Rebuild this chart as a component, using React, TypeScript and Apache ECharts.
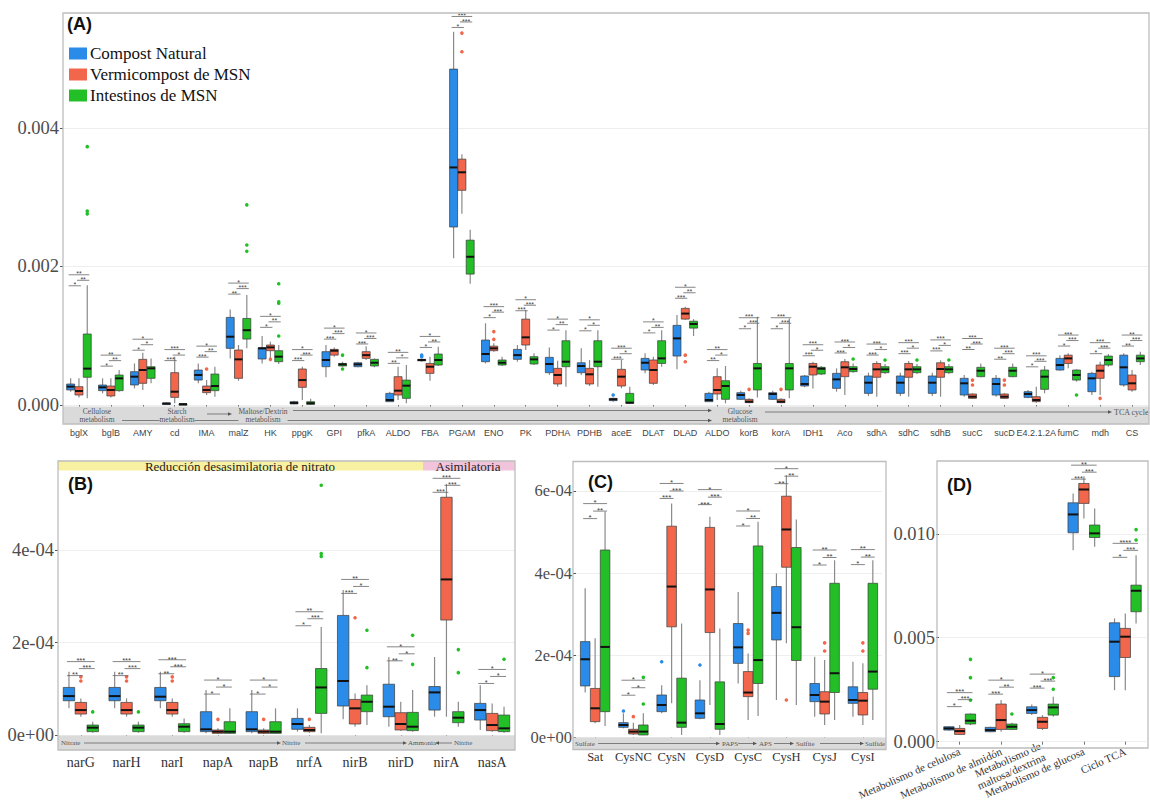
import React, { useEffect, useRef } from "react";
import * as echarts from "echarts";

// ---- groups -------------------------------------------------------------
const GROUPS = ["Compost Natural", "Vermicompost de MSN", "Intestinos de MSN"];
const FILLS = ["#2b8be8", "#f2664c", "#22c026"];

// ---- (A) carbohydrate metabolism genes, relative abundance ×1e-4 ----------
// box rows: [min, q1, median, q3, max]
const catsA = ["bglX", "bglB", "AMY", "cd", "IMA", "malZ", "HK", "ppgK", "GPI", "pfkA", "ALDO", "FBA", "PGAM", "ENO", "PK", "PDHA", "PDHB", "aceE", "DLAT", "DLAD", "ALDO", "korB", "korA", "IDH1", "Aco", "sdhA", "sdhC", "sdhB", "sucC", "sucD", "E4.2.1.2A", "fumC", "mdh", "CS"];
const compostA = [
  [1.93, 2.17, 2.65, 3.03, 3.85], [1.68, 2.07, 2.55, 2.89, 3.85], [2.4, 2.89, 4.09, 4.81, 6.0], [0.1, 0.15, 0.2, 0.3, 0.35],
  [3.13, 3.6, 4.33, 5.05, 6.0], [6.73, 8.18, 9.86, 12.65, 13.8], [6.0, 6.64, 8.18, 8.27, 9.96], [0.1, 0.15, 0.3, 0.48, 0.6],
  [4.0, 5.53, 6.5, 7.7, 8.66], [5.44, 5.53, 5.87, 6.1, 6.25], [0.48, 0.48, 0.72, 1.68, 1.92], [6.25, 6.4, 6.5, 6.59, 6.73],
  [21.2, 25.7, 34.3, 48.5, 53.9], [6.0, 6.25, 7.36, 9.38, 11.8], [6.25, 6.59, 7.2, 8.03, 8.66], [4.33, 4.67, 5.92, 6.88, 8.32],
  [4.33, 4.67, 5.63, 6.1, 8.18], [0.48, 0.63, 0.82, 0.96, 1.1], [4.57, 5.05, 6.1, 6.73, 7.46], [5.15, 7.07, 9.62, 11.5, 13.0],
  [0.48, 0.48, 0.72, 1.68, 1.92], [0.72, 0.82, 1.44, 1.78, 2.07], [0.72, 0.82, 1.59, 1.78, 2.07], [2.55, 2.74, 3.03, 4.19, 4.33],
  [1.92, 2.4, 3.7, 4.57, 5.29], [1.3, 1.68, 3.22, 4.19, 4.67], [1.3, 1.68, 3.22, 4.19, 4.67], [1.3, 1.68, 3.22, 4.19, 4.67],
  [1.2, 1.44, 3.13, 3.85, 4.33], [1.2, 1.44, 3.03, 3.85, 4.33], [0.96, 1.1, 1.59, 1.92, 2.17], [4.95, 5.05, 5.77, 6.73, 7.2],
  [1.44, 1.92, 3.85, 4.57, 4.81], [2.65, 2.89, 5.44, 7.2, 7.46],
];
const vermiA = [
  [1.1, 1.44, 2.02, 2.65, 3.85], [1.1, 1.3, 2.17, 2.74, 3.85], [2.17, 3.13, 5.05, 6.59, 7.55], [0.24, 1.1, 1.92, 4.67, 6.98],
  [1.44, 1.78, 2.17, 2.74, 3.6], [3.5, 3.85, 6.59, 7.94, 8.66], [6.73, 7.84, 8.32, 8.66, 9.14], [0.72, 2.55, 3.6, 5.2, 5.53],
  [6.98, 7.2, 7.84, 8.03, 8.32], [6.5, 6.73, 7.2, 7.7, 8.5], [0.72, 1.44, 2.07, 4.09, 5.53], [3.5, 4.57, 5.53, 6.0, 6.98],
  [27.6, 31.0, 33.6, 35.5, 36.2], [7.7, 7.84, 8.18, 8.5, 8.9], [7.94, 8.66, 9.77, 12.4, 13.7], [2.65, 3.03, 4.33, 5.29, 6.4],
  [2.74, 3.03, 4.43, 5.29, 6.5], [2.4, 2.74, 4.09, 5.15, 6.5], [2.89, 3.13, 5.05, 6.5, 6.98], [12.3, 12.4, 13.2, 13.95, 14.2],
  [0.72, 1.59, 2.17, 4.09, 5.29], [0.24, 0.34, 0.48, 0.82, 0.96], [0.24, 0.34, 0.48, 0.82, 0.96], [2.4, 4.33, 5.53, 6.0, 6.25],
  [1.44, 4.09, 5.44, 6.25, 6.64], [1.2, 4.0, 5.15, 6.0, 6.35], [1.2, 4.0, 5.15, 6.0, 6.35], [1.2, 4.0, 5.2, 6.1, 6.45],
  [0.87, 0.96, 1.2, 1.59, 1.68], [0.87, 0.96, 1.2, 1.59, 1.68], [0.34, 0.48, 0.72, 1.2, 2.65], [5.29, 6.0, 6.73, 7.2, 7.46],
  [1.44, 3.85, 4.95, 5.77, 6.25], [1.92, 2.17, 3.13, 4.33, 5.05],
];
const gutA = [
  [0.96, 4.0, 5.25, 10.25, 17.3], [1.92, 2.07, 3.85, 4.33, 5.05], [3.13, 3.85, 5.29, 5.53, 6.73], [0.05, 0.08, 0.12, 0.18, 0.25],
  [1.2, 2.07, 2.74, 4.47, 5.53], [8.18, 9.52, 10.8, 12.5, 15.9], [5.92, 6.25, 6.98, 7.84, 8.66], [0.05, 0.1, 0.25, 0.48, 0.9],
  [5.53, 5.63, 5.87, 6.0, 6.25], [5.44, 5.63, 6.1, 6.59, 6.73], [0.24, 0.96, 2.79, 3.6, 5.77], [5.63, 5.77, 6.5, 7.36, 8.42],
  [17.5, 18.9, 21.4, 23.8, 25.3], [5.63, 5.77, 6.1, 6.5, 6.98], [5.77, 5.92, 6.59, 6.98, 7.46], [2.65, 5.53, 6.25, 9.28, 10.8],
  [2.65, 5.53, 6.25, 9.28, 10.8], [0.14, 0.24, 0.34, 1.68, 2.65], [5.53, 6.0, 6.73, 9.28, 10.8], [9.96, 11.1, 11.7, 12.1, 12.4],
  [0.24, 0.82, 2.74, 3.51, 5.63], [1.1, 2.17, 5.29, 6.0, 12.75], [0.96, 2.17, 5.29, 6.0, 12.5], [4.33, 4.47, 5.24, 5.44, 5.63],
  [4.67, 4.81, 5.2, 5.53, 6.0], [4.47, 4.67, 5.15, 5.53, 5.92], [4.47, 4.67, 5.15, 5.53, 5.92], [4.47, 4.67, 5.15, 5.53, 5.92],
  [4.0, 4.09, 4.95, 5.44, 6.0], [4.0, 4.09, 4.95, 5.44, 6.0], [1.68, 2.26, 4.09, 5.05, 5.63], [3.37, 3.6, 4.33, 5.05, 5.15],
  [5.53, 5.77, 6.5, 7.07, 7.36], [5.77, 6.25, 6.73, 7.2, 7.7],
];
// outliers: [category index, value]
const compostOutA = [[11, 7.2], [11, 6.98], [17, 1.44]];
const vermiOutA = [[4, 5.2], [6, 6.59], [12, 53.7], [12, 51.0], [13, 10.6], [13, 9.48], [19, 7.2], [19, 6.25], [21, 2.26], [22, 2.26], [28, 3.6], [28, 2.89], [29, 3.6], [29, 2.89], [32, 0.96]];
const gutOutA = [[0, 37.3], [0, 28.0], [0, 27.6], [5, 28.9], [5, 23.1], [5, 22.2], [6, 17.5], [6, 14.9], [6, 14.7], [6, 9.96], [8, 7.2], [8, 5.2], [24, 6.64], [25, 6.5], [26, 6.5], [27, 6.5], [31, 1.44]];
// significance: top bracket height, labels [compost–vermi, vermi–gut, compost–gut]
const sigTopA = [18.8, 7.2, 9.5, 8.0, 8.5, 17.6, 12.8, 8.0, 11.1, 10.4, 7.6, 9.9, 56.1, 14.2, 15.2, 12.4, 12.3, 8.2, 12.0, 17.0, 8.0, 12.6, 12.6, 8.7, 9.1, 8.8, 9.0, 9.4, 9.6, 8.2, 7.1, 10.1, 9.0, 10.1];
const sigA = [
  ["*", "**", "**"], ["*", "**", "**"], ["*", "*", "*"], ["***", "*", "***"], ["***", "**", "*"], ["**", "***", "*"], ["*", "**", "*"],
  ["***", "***", "*"], ["***", "***", "*"], ["***", "***", "*"], ["**", "*", "**"], ["*", "**", "*"], ["*", "***", "***"], ["*", "***", "***"],
  ["***", "***", "*"], ["*", "**", "*"], ["*", "*", "*"], ["***", "*", "***"], ["*", "**", "*"], ["***", "**", "*"], ["**", "*", "**"],
  ["*", "***", "***"], ["*", "***", "***"], ["***", "*", "***"], ["***", "*", "***"], ["***", "*", "***"], ["***", "*", "***"], ["***", "*", "***"],
  ["**", "***", "***"], ["**", "***", "***"], ["*", "***", "***"], ["*", "***", "***"], ["*", "***", "***"], ["**", "***", "**"],
];

// ---- (B) nitrogen metabolism, ×1e-4 ----------------------------------------
const catsB = ["narG", "narH", "narI", "napA", "napB", "nrfA", "nirB", "nirD", "nirA", "nasA"];
const compostB = [
  [0.577, 0.742, 0.843, 1.03, 1.37], [0.577, 0.742, 0.843, 1.03, 1.37], [0.577, 0.742, 0.83, 1.03, 1.37], [0.036, 0.072, 0.123, 0.505, 0.973],
  [0.036, 0.072, 0.123, 0.505, 0.973], [0.072, 0.123, 0.238, 0.36, 0.577], [0.339, 0.627, 1.17, 2.59, 3.14], [0.18, 0.396, 0.613, 1.1, 1.69],
  [0.396, 0.54, 0.923, 1.05, 1.69], [0.108, 0.324, 0.54, 0.685, 1.08],
];
const vermiB = [
  [0.396, 0.454, 0.54, 0.706, 0.793], [0.396, 0.454, 0.54, 0.706, 0.793], [0.396, 0.454, 0.54, 0.706, 0.793], [0.022, 0.036, 0.072, 0.108, 0.144],
  [0.022, 0.036, 0.072, 0.108, 0.144], [0.05, 0.072, 0.108, 0.166, 0.216], [0.18, 0.238, 0.577, 0.771, 0.9], [0.094, 0.108, 0.238, 0.483, 0.72],
  [0.396, 2.49, 3.37, 5.15, 5.44], [0.072, 0.094, 0.216, 0.468, 0.685],
];
const gutB = [
  [0.05, 0.072, 0.159, 0.216, 0.288], [0.05, 0.072, 0.159, 0.216, 0.288], [0.05, 0.072, 0.18, 0.245, 0.36], [0.022, 0.036, 0.072, 0.288, 0.577],
  [0.022, 0.036, 0.072, 0.288, 0.577], [0.036, 0.468, 1.03, 1.44, 2.34], [0.216, 0.505, 0.72, 0.865, 1.08], [0.072, 0.094, 0.18, 0.49, 0.973],
  [0.18, 0.267, 0.375, 0.505, 0.72], [0.05, 0.072, 0.144, 0.432, 0.613],
];
const compostOutB: number[][] = [];
const vermiOutB = [[0, 1.26], [0, 1.17], [1, 1.26], [1, 1.17], [2, 1.26], [2, 1.17], [3, 0.339], [4, 0.339], [5, 0.339], [6, 2.54]];
const gutOutB = [[0, 0.5], [1, 0.5], [5, 5.41], [5, 3.93], [5, 3.87], [6, 2.27], [6, 1.46], [7, 2.16], [7, 1.53], [8, 1.85], [8, 1.35], [9, 1.64]];
const sigTopB = [1.59, 1.59, 1.63, 1.19, 1.19, 2.67, 3.37, 1.91, 5.56, 1.42];
const sigB = [
  ["**", "***", "***"], ["**", "***", "***"], ["**", "***", "***"], ["*", "*", "*"], ["*", "*", "*"],
  ["*", "***", "**"], ["***", "*", "**"], ["**", "*", "*"], ["***", "***", "***"], ["*", "*", "*"],
];

// ---- (C) sulfur metabolism, ×1e-4 ------------------------------------------
const catsC = ["Sat", "CysNC", "CysN", "CysD", "CysC", "CysH", "CysJ", "CysI"];
const compostC = [
  [1.09, 1.25, 1.9, 2.33, 3.63], [0.219, 0.243, 0.3, 0.357, 0.584], [0.584, 0.624, 0.787, 1.03, 1.27], [0.438, 0.462, 0.584, 0.908, 1.39],
  [1.31, 1.8, 2.19, 2.77, 3.54], [0.908, 2.37, 3.03, 3.67, 3.99], [0.503, 0.868, 1.03, 1.31, 1.96], [0.503, 0.827, 0.908, 1.23, 1.84],
];
const vermiC = [
  [0.34, 0.381, 0.706, 1.19, 2.41], [0.057, 0.081, 0.138, 0.195, 0.357], [0.827, 2.69, 3.67, 5.14, 5.69], [0.787, 2.55, 3.6, 5.11, 5.37],
  [0.42, 0.99, 1.09, 1.6, 2.04], [2.29, 4.14, 5.06, 5.87, 6.38], [0.3, 0.568, 0.868, 1.11, 1.88], [0.3, 0.543, 0.892, 1.09, 1.8],
];
const gutC = [
  [0.276, 0.624, 2.2, 4.56, 5.49], [0.049, 0.057, 0.138, 0.3, 0.584], [0.057, 0.243, 0.357, 1.44, 2.77], [0.057, 0.195, 0.324, 1.35, 2.65],
  [0.519, 1.31, 1.88, 4.66, 5.25], [0.787, 1.87, 2.68, 4.62, 5.3], [0.42, 1.09, 1.56, 3.75, 4.31], [0.42, 1.17, 1.6, 3.75, 4.31],
];
const compostOutC = [[1, 0.64], [2, 1.84], [3, 1.76]];
const vermiOutC = [[1, 0.503], [4, 2.61], [4, 2.53], [5, 0.908], [6, 2.3], [6, 2.1], [7, 2.3], [7, 2.1]];
const gutOutC = [[1, 0.811], [1, 1.46]];
const sigTopC = [5.69, 1.39, 6.18, 6.03, 5.51, 6.54, 4.56, 4.57];
const sigC = [
  ["*", "**", "*"], ["*", "*", "*"], ["***", "***", "*"], ["***", "***", "*"],
  ["*", "**", "*"], ["**", "**", "*"], ["*", "**", "**"], ["*", "**", "**"],
];

// ---- (D) pathway totals, ×1e-3 ----------------------------------------------
const catsD = ["Metabolismo de celulosa", "Metabolismo de almidón", "Metabolismo de\nmaltosa/dextrina", "Metabolismo de glucosa", "Ciclo TCA"];
const compostD = [[0.53, 0.56, 0.64, 0.72, 0.75], [0.45, 0.48, 0.56, 0.69, 0.72], [1.28, 1.36, 1.52, 1.68, 1.79], [9.21, 10.05, 10.93, 11.49, 11.94], [2.48, 3.13, 4.81, 5.72, 5.93]];
const vermiD = [[0.32, 0.35, 0.51, 0.64, 0.8], [0.48, 0.59, 1.04, 1.81, 2.0], [0.56, 0.64, 0.96, 1.17, 1.28], [10.74, 11.46, 12.13, 12.42, 12.77], [2.48, 4.05, 5.05, 5.45, 6.17]];
const gutD = [[0.8, 0.85, 1.01, 1.33, 1.36], [0.56, 0.59, 0.72, 0.85, 0.91], [1.2, 1.28, 1.65, 1.81, 2.16], [9.38, 9.82, 10.02, 10.42, 11.22], [5.69, 6.25, 7.26, 7.53, 8.97]];
const compostOutD: number[][] = [];
const vermiOutD: number[][] = [];
const gutOutD = [[0, 3.96], [0, 3.08], [0, 2.0], [1, 1.33], [2, 3.08], [2, 2.52], [4, 10.2], [4, 9.7]];
const sigTopD = [2.36, 2.96, 3.25, 13.3, 9.54];
const sigD = [["*", "***", "***"], ["***", "**", "*"], ["***", "***", "*"], ["***", "***", "**"], ["*", "***", "****"]];

// ---- styling ----------------------------------------------------------------
const SERIF = "Liberation Serif";
const SANS = "Liberation Sans";
const OFFSET = 0.26; // group centre offset, fraction of band
const BOX_W = 0.25; // box width, fraction of band

const bandOf = (api: any, c: number) => api.coord([c + 1, 0])[0] - api.coord([c, 0])[0];

function boxRenderer(g: number) {
  return (_params: any, api: any) => {
    const c = api.value(0);
    const band = bandOf(api, c);
    const cx = api.coord([c, 0])[0] + (g - 1) * band * OFFSET;
    const y = (k: number) => api.coord([c, api.value(k)])[1];
    const lo = y(1), q1 = y(2), md = y(3), q3 = y(4), hi = y(5);
    const w = band * BOX_W;
    const wh = { stroke: "#8a8a8a", lineWidth: 1.2 };
    return {
      type: "group",
      children: [
        { type: "line", shape: { x1: cx, y1: hi, x2: cx, y2: q3 }, style: wh },
        { type: "line", shape: { x1: cx, y1: q1, x2: cx, y2: lo }, style: wh },
        { type: "rect", shape: { x: cx - w / 2, y: q3, width: w, height: Math.max(q1 - q3, 1.5) }, style: { fill: FILLS[g], stroke: "#3a3a3a", lineWidth: 0.7 } },
        { type: "line", shape: { x1: cx - w / 2, y1: md, x2: cx + w / 2, y2: md }, style: { stroke: "#111", lineWidth: 2 } },
      ],
    };
  };
}

function outlierRenderer(g: number) {
  return (_params: any, api: any) => {
    const c = api.value(0);
    const band = bandOf(api, c);
    const p = api.coord([c, api.value(1)]);
    return { type: "circle", shape: { cx: p[0] + (g - 1) * band * OFFSET, cy: p[1], r: 1.8 }, style: { fill: FILLS[g] } };
  };
}

// stacked comparison brackets: compost–gut on top, vermi–gut below, compost–vermi lowest
function sigRenderer(labels: string[][], gap: number, fontSize: number) {
  const lh = gap - 0.6;
  return (params: any, api: any) => {
    const c = api.value(0);
    const band = bandOf(api, c);
    const p = api.coord([c, api.value(1)]);
    const off = band * OFFSET;
    const xs = [p[0] - off, p[0], p[0] + off];
    const [br, rg, bg] = labels[params.dataIndex];
    const rows = [
      { a: xs[0], b: xs[2], y: p[1], t: bg },
      { a: xs[1], b: xs[2], y: p[1] + gap, t: rg },
      { a: xs[0], b: xs[1], y: p[1] + 2 * gap, t: br },
    ];
    const children: any[] = [];
    rows.forEach((r) => {
      children.push({ type: "line", shape: { x1: r.a - 2, y1: r.y, x2: r.b + 2, y2: r.y }, style: { stroke: "#666", lineWidth: 0.8 } });
      children.push({
        type: "text",
        style: {
          text: r.t, x: (r.a + r.b) / 2, y: r.y + lh / 2 + fontSize * 0.3 - 3,
          align: "center", verticalAlign: "bottom", fontSize, lineHeight: lh, fontFamily: SANS, fill: "#444",
        },
      });
    });
    return { type: "group", children };
  };
}

const isStep = (v: number, step: number) => Math.abs(v / step - Math.round(v / step)) < 1e-6;
const sci = (v: number) => {
  if (Math.abs(v) < 1e-12) return "0e+00";
  const e = Math.floor(Math.log10(Math.abs(v)) + 1e-9);
  const m = Math.round(v / Math.pow(10, e));
  return `${m}e${e < 0 ? "-" : "+"}${String(Math.abs(e)).padStart(2, "0")}`;
};

function yAxisFor(gridIndex: number, max: number, step: number, labelStep: number, fmt: (v: number) => string, fontSize: number) {
  const majors: number[] = [];
  for (let v = 0; v <= max + 1e-12; v += labelStep) majors.push(+v.toPrecision(6));
  return {
    type: "value",
    gridIndex,
    min: 0,
    max,
    interval: step,
    axisLine: { show: false },
    axisTick: { show: true, length: 3, lineStyle: { color: "#555" }, customValues: majors },
    splitLine: { show: true, lineStyle: { color: "#eeeeee", width: 1 } },
    axisLabel: {
      margin: 4,
      fontFamily: SERIF,
      fontSize,
      color: "#4d4d4d",
      customValues: majors,
      formatter: (v: number) => (isStep(v, labelStep) ? fmt(v) : ""),
    },
  };
}

function xAxisFor(gridIndex: number, data: string[], offset: number, label: any) {
  return {
    type: "category",
    gridIndex,
    data,
    offset,
    axisLine: { show: false },
    axisTick: { show: true, alignWithLabel: true, length: 3, lineStyle: { color: "#777" } },
    axisLabel: { interval: 0, color: "#444", ...label },
  };
}

type PanelData = {
  axis: number;
  unit: number;
  boxes: number[][][];
  outs: number[][][];
  sigTop: number[];
  sig: string[][];
  gap: number;
  sigFont: number;
};

const panels: PanelData[] = [
  { axis: 0, unit: 1e-4, boxes: [compostA, vermiA, gutA], outs: [compostOutA, vermiOutA, gutOutA], sigTop: sigTopA, sig: sigA, gap: 5.5, sigFont: 7 },
  { axis: 1, unit: 1e-4, boxes: [compostB, vermiB, gutB], outs: [compostOutB, vermiOutB, gutOutB], sigTop: sigTopB, sig: sigB, gap: 7, sigFont: 7.5 },
  { axis: 2, unit: 1e-4, boxes: [compostC, vermiC, gutC], outs: [compostOutC, vermiOutC, gutOutC], sigTop: sigTopC, sig: sigC, gap: 7.5, sigFont: 8 },
  { axis: 3, unit: 1e-3, boxes: [compostD, vermiD, gutD], outs: [compostOutD, vermiOutD, gutOutD], sigTop: sigTopD, sig: sigD, gap: 7, sigFont: 7.5 },
];

function buildSeries() {
  const series: any[] = [];
  panels.forEach((p) => {
    const common = { type: "custom", coordinateSystem: "cartesian2d", xAxisIndex: p.axis, yAxisIndex: p.axis, clip: false, silent: true };
    p.boxes.forEach((rows, g) => {
      series.push({
        ...common,
        name: GROUPS[g],
        itemStyle: { color: FILLS[g] },
        encode: { x: 0, y: [1, 2, 3, 4, 5] },
        renderItem: boxRenderer(g),
        data: rows.map((r, i) => [i, ...r.map((v) => v * p.unit)]),
        z: 3,
      });
    });
    p.outs.forEach((pts, g) => {
      series.push({
        ...common,
        name: GROUPS[g],
        itemStyle: { color: FILLS[g] },
        encode: { x: 0, y: 1 },
        renderItem: outlierRenderer(g),
        data: pts.map(([c, v]) => [c, v * p.unit]),
        z: 4,
      });
    });
    series.push({
      ...common,
      name: "sig" + p.axis,
      encode: { x: 0, y: 1 },
      renderItem: sigRenderer(p.sig, p.gap, p.sigFont),
      data: p.sigTop.map((v, i) => [i, v * p.unit]),
      z: 4,
    });
  });
  return series;
}

// ---- decorations (frames, pathway strips, headers) --------------------------
const STRIP = "#dadada";
const stripFont = (size: number) => `${size}px "${SERIF}"`;

function arrow(x1: number, x2: number, y: number) {
  const dir = x2 > x1 ? 1 : -1;
  return [
    { type: "line", z: 6, shape: { x1, y1: y, x2: x2 - dir * 3, y2: y }, style: { stroke: "#666", lineWidth: 0.8 } },
    { type: "polygon", z: 6, shape: { points: [[x2, y], [x2 - dir * 4, y - 1.8], [x2 - dir * 4, y + 1.8]] }, style: { fill: "#555" } },
  ];
}

function stripText(text: string, x: number, y: number, align: string, size = 7.5) {
  return {
    type: "text",
    z: 7,
    style: {
      text, x, y, font: stripFont(size), fill: "#555",
      align, textAlign: align, verticalAlign: "middle", textVerticalAlign: "middle",
      backgroundColor: STRIP, lineHeight: size + 0.5,
    },
  };
}

function frame(x: number, y: number, w: number, h: number) {
  return { type: "rect", z: 20, shape: { x, y, width: w, height: h }, style: { fill: "none", stroke: "#bdbdbd", lineWidth: 1.3 } };
}

function panelLabel(text: string, x: number, y: number) {
  return { type: "text", z: 21, style: { text, x, y, font: `bold 18px "${SANS}"`, fill: "#111" } };
}

function headerText(text: string, x: number, y: number) {
  return { type: "text", z: 21, style: { text, x, y, font: `13px "${SERIF}"`, fill: "#222", align: "center", textAlign: "center", verticalAlign: "middle", textVerticalAlign: "middle" } };
}

const graphics: any[] = [
  // (A) pathway strip
  { type: "rect", z: 5, shape: { x: 63, y: 406.5, width: 1086, height: 17.5 }, style: { fill: STRIP } },
  ...arrow(122, 712, 420.5),
  ...arrow(293, 712, 410.5),
  ...arrow(207, 232, 414),
  ...arrow(765, 1112, 412),
  stripText("Cellulose\nmetabolism", 97, 415, "center"),
  stripText("Starch\nmetabolism", 177, 415, "center"),
  stripText("Maltose/Dextrin\nmetabolism", 263, 415, "center"),
  stripText("Glucose\nmetabolism", 740, 415, "center"),
  stripText("TCA cycle", 1114, 412, "left", 8),
  // (B) header bands and strip
  { type: "rect", z: 5, shape: { x: 58, y: 461, width: 365, height: 9.5 }, style: { fill: "#f7f1a1" } },
  { type: "rect", z: 5, shape: { x: 423, y: 461, width: 92, height: 9.5 }, style: { fill: "#f2c4dc" } },
  headerText("Reducción desasimilatoria de nitrato", 240, 466),
  headerText("Asimilatoria", 468, 466),
  { type: "rect", z: 5, shape: { x: 58, y: 735.5, width: 457, height: 14.5 }, style: { fill: STRIP } },
  ...arrow(84, 281, 743),
  ...arrow(305, 407, 743),
  ...arrow(452, 435, 743),
  stripText("Nitrate", 61, 743, "left", 7),
  stripText("Nitrite", 282, 743, "left", 7),
  stripText("Ammonia", 408, 743, "left", 7),
  stripText("Nitrite", 454, 743, "left", 7),
  // (C) strip
  { type: "rect", z: 5, shape: { x: 573, y: 737.5, width: 313, height: 12 }, style: { fill: STRIP } },
  ...arrow(598, 720, 743.5),
  ...arrow(738, 757, 743.5),
  ...arrow(774, 794, 743.5),
  ...arrow(820, 864, 743.5),
  stripText("Sulfate", 575, 743.5, "left", 7),
  stripText("PAPS", 722, 743.5, "left", 7),
  stripText("APS", 759, 743.5, "left", 7),
  stripText("Sulfite", 796, 743.5, "left", 7),
  stripText("Sulfide", 865, 743.5, "left", 7),
  // frames
  frame(63, 13, 1086, 411),
  frame(58, 461, 457, 289),
  frame(573, 461.5, 313, 288),
  frame(937, 461, 211, 287),
  panelLabel("(A)", 67, 15),
  panelLabel("(B)", 68, 475),
  panelLabel("(C)", 588, 473),
  panelLabel("(D)", 947, 476),
];

function buildOption() {
  return {
    animation: false,
    backgroundColor: "#ffffff",
    textStyle: { fontFamily: SERIF },
    grid: [
      { left: 63, top: 13, width: 1085, height: 392 },
      { left: 58, top: 461.7, width: 457, height: 273.3 },
      { left: 576, top: 461.7, width: 306, height: 275.6 },
      { left: 939, top: 461, width: 207, height: 280.7 },
    ],
    xAxis: [
      xAxisFor(0, catsA, 19, { fontFamily: SANS, fontSize: 9, margin: 4 }),
      xAxisFor(1, catsB, 15, { fontFamily: SERIF, fontSize: 14, margin: 5, color: "#333" }),
      xAxisFor(2, catsC, 12.5, { fontFamily: SERIF, fontSize: 12.5, margin: 1, color: "#333" }),
      xAxisFor(3, catsD, 6, { fontFamily: SERIF, fontSize: 11, margin: 3, rotate: 24, color: "#333", lineHeight: 12 }),
    ],
    yAxis: [
      yAxisFor(0, 0.00566, 0.001, 0.002, (v) => v.toFixed(3), 18.5),
      yAxisFor(1, 5.92e-4, 1e-4, 2e-4, sci, 18.5),
      yAxisFor(2, 6.71e-4, 1e-4, 2e-4, sci, 16.5),
      yAxisFor(3, 0.0135, 0.0025, 0.005, (v) => v.toFixed(3), 18.5),
    ],
    legend: {
      data: GROUPS,
      orient: "vertical",
      left: 64,
      top: 40,
      icon: "rect",
      itemWidth: 18,
      itemHeight: 12,
      itemGap: 4,
      selectedMode: false,
      textStyle: { fontFamily: SERIF, fontSize: 17, color: "#111", padding: [0, 0, 0, -2] },
    },
    graphic: { elements: graphics },
    series: buildSeries(),
  };
}

export default function App() {
  const ref = useRef<HTMLDivElement>(null);
  useEffect(() => {
    document.body.style.margin = "0";
    const chart = echarts.init(ref.current!, null, { renderer: "svg" });
    chart.setOption(buildOption() as any);
    return () => chart.dispose();
  }, []);
  return <div ref={ref} style={{ width: 1150, height: 810 }} />;
}
